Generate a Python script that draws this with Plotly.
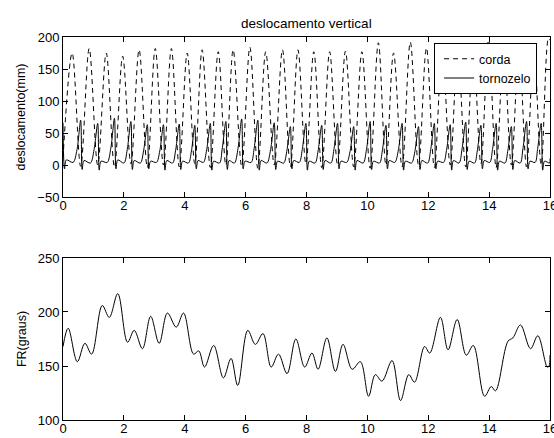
import plotly.graph_objects as go

# ---- data ----
x_ticks = [0, 2, 4, 6, 8, 10, 12, 14, 16]
top_yticks = [-50, 0, 50, 100, 150, 200]
bot_yticks = [100, 150, 200, 250]

corda_t = [0.00, 0.30, 0.58, 0.86, 1.14, 1.42, 1.69, 1.96, 2.23, 2.50, 2.77, 3.03,
           3.30, 3.56, 3.82, 4.08, 4.33, 4.57, 4.84, 5.10, 5.35, 5.59, 5.87, 6.14,
           6.40, 6.66, 6.94, 7.21, 7.47, 7.72, 7.98, 8.24, 8.50, 8.76, 9.02, 9.28,
           9.55, 9.82, 10.09, 10.36, 10.61, 10.86, 11.14, 11.41, 11.68, 11.94, 12.20,
           12.46, 12.72, 12.97, 13.23, 13.48, 13.73, 13.98, 14.23, 14.48, 14.73,
           14.98, 15.23, 15.47, 15.71, 15.95, 16.00]
corda_v = [10, 175, -2, 182, 0, 175, -3, 170, 2, 180, -4, 182,
           0, 182, -3, 175, 2, 180, -4, 177, 0, 180, -2, 184,
           -5, 177, 0, 180, -3, 180, 2, 177, -4, 177, 0, 178,
           -3, 177, -5, 191, 0, 175, -3, 192, 0, 183, -4,
           182, 0, 180, -3, 180, 2, 195, -4, 182, 0,
           182, -3, 183, 0, 198, 195]

tornozelo_t = [0.00, 0.05, 0.11, 0.33, 0.46,
               0.58, 0.63, 0.69, 0.90, 1.02,
               1.14, 1.19, 1.25, 1.45, 1.57,
               1.69, 1.74, 1.80, 2.00, 2.11,
               2.23, 2.28, 2.34, 2.54, 2.65,
               2.77, 2.82, 2.88, 3.07, 3.18,
               3.30, 3.35, 3.41, 3.60, 3.70,
               3.82, 3.87, 3.93, 4.12, 4.22,
               4.33, 4.38, 4.44, 4.61, 4.72,
               4.84, 4.89, 4.95, 5.14, 5.23,
               5.35, 5.40, 5.46, 5.63, 5.75,
               5.87, 5.92, 5.98, 6.18, 6.28,
               6.40, 6.45, 6.51, 6.70, 6.82,
               6.94, 6.99, 7.05, 7.25, 7.35,
               7.47, 7.52, 7.58, 7.76, 7.86,
               7.98, 8.03, 8.09, 8.28, 8.38,
               8.50, 8.55, 8.61, 8.80, 8.90,
               9.02, 9.07, 9.13, 9.32, 9.43,
               9.55, 9.60, 9.66, 9.86, 9.97,
               10.09, 10.14, 10.20, 10.40, 10.49,
               10.61, 10.66, 10.72, 10.90, 11.02,
               11.14, 11.19, 11.25, 11.45, 11.56,
               11.68, 11.73, 11.79, 11.98, 12.08,
               12.20, 12.25, 12.31, 12.50, 12.60,
               12.72, 12.77, 12.83, 13.01, 13.11,
               13.23, 13.28, 13.34, 13.52, 13.61,
               13.73, 13.78, 13.84, 14.02, 14.11,
               14.23, 14.28, 14.34, 14.52, 14.61,
               14.73, 14.78, 14.84, 15.02, 15.11,
               15.23, 15.28, 15.34, 15.51, 15.59,
               15.71, 15.76, 15.82, 15.99,
               16.00]
tornozelo_v = [66, -6, 8, 4, 24,
               70, -7, 7, 3, 24,
               65, -8, 6, 4, 26,
               73, -6, 8, 3, 24,
               68, -7, 7, 3, 23,
               63, -6, 6, 4, 22,
               63, -8, 7, 3, 23,
               64, -7, 6, 3, 22,
               62, -6, 7, 4, 24,
               65, -8, 6, 3, 25,
               68, -7, 7, 3, 26,
               72, -6, 6, 4, 26,
               70, -8, 7, 3, 24,
               66, -7, 6, 3, 21,
               60, -6, 7, 4, 24,
               65, -8, 6, 3, 22,
               62, -7, 7, 3, 24,
               65, -6, 6, 4, 21,
               60, -8, 7, 3, 24,
               68, -7, 6, 3, 22,
               62, -6, 7, 4, 24,
               65, -8, 6, 3, 21,
               60, -7, 7, 3, 24,
               65, -6, 6, 4, 23,
               63, -8, 7, 3, 25,
               67, -7, 6, 3, 22,
               62, -6, 7, 4, 24,
               65, -8, 6, 3, 21,
               60, -7, 7, 3, 25,
               68, -6, 6, 4, 24,
               65, -8, 6, 3,
               10]

fr_t = [0.00, 0.17, 0.47, 0.72, 0.94, 1.29, 1.52, 1.80, 2.12, 2.34, 2.61, 2.88,
        3.16, 3.43, 3.72, 3.96, 4.29, 4.46, 4.65, 4.95, 5.27, 5.52, 5.74, 6.07,
        6.32, 6.57, 6.84, 7.08, 7.36, 7.65, 7.94, 8.18, 8.38, 8.67, 8.95, 9.20,
        9.50, 9.77, 10.04, 10.26, 10.48, 10.81, 11.09, 11.36, 11.55, 11.88, 12.05,
        12.40, 12.65, 12.95, 13.25, 13.48, 13.85, 14.07, 14.21, 14.62, 14.78,
        15.03, 15.36, 15.60, 15.91, 15.97, 16.00]
fr_v = [168, 185, 154, 171, 161, 206, 195, 217, 172, 183, 166, 196,
        171, 199, 186, 199, 161, 164, 149, 169, 139, 157, 132, 183,
        170, 180, 149, 161, 143, 175, 149, 162, 147, 176, 145, 170,
        147, 154, 122, 142, 136, 155, 118, 142, 135, 168, 162,
        195, 165, 193, 160, 169, 122, 131, 127, 173, 176,
        188, 166, 178, 149, 150, 160]

FAMILY = "Liberation Sans, Arial, sans-serif"
FONT = dict(family=FAMILY, size=13, color="black")
TITLE_FONT = dict(family=FAMILY, size=13.5, color="black")
LABEL_FONT = dict(family=FAMILY, size=12.5, color="black")
LEGEND_FONT = dict(family=FAMILY, size=12.5, color="black")

fig = go.Figure()
fig.add_trace(go.Scatter(x=corda_t, y=corda_v, mode="lines", name="corda",
                         line=dict(color="black", width=1, dash="5px,4px",
                                   shape="spline", smoothing=1),
                         xaxis="x", yaxis="y"))
fig.add_trace(go.Scatter(x=tornozelo_t, y=tornozelo_v, mode="lines", name="tornozelo",
                         line=dict(color="black", width=1, shape="spline", smoothing=0.9),
                         xaxis="x", yaxis="y"))
fig.add_trace(go.Scatter(x=fr_t, y=fr_v, mode="lines", showlegend=False,
                         line=dict(color="black", width=1, shape="spline", smoothing=1),
                         xaxis="x2", yaxis="y2"))

common = dict(showline=True, linecolor="black", linewidth=1, mirror="ticks",
              ticks="inside", ticklen=5, tickcolor="black", tickwidth=1,
              showgrid=False, zeroline=False, tickfont=FONT, automargin=False)
xcommon = dict(common, ticklabeloverflow="allow", ticklabelstandoff=-4)

fig.update_layout(
    width=554, height=438,
    margin=dict(l=63, r=4, t=37, b=18),
    paper_bgcolor="white", plot_bgcolor="white",
    font=FONT,
    title=dict(text="deslocamento vertical", x=0.553, xref="container",
               y=0.948, yref="container", xanchor="center", yanchor="middle",
               font=TITLE_FONT, automargin=False),
    xaxis=dict(domain=[0, 1], range=[0, 16], tickvals=x_ticks, anchor="y", **xcommon),
    yaxis=dict(domain=[0.5822, 1], range=[-50, 200], tickvals=top_yticks, anchor="x",
               title=dict(text="deslocamento(mm)", font=LABEL_FONT, standoff=8), **common),
    xaxis2=dict(domain=[0, 1], range=[0, 16], tickvals=x_ticks, anchor="y2", **xcommon),
    yaxis2=dict(domain=[0, 0.423], range=[100, 250], tickvals=bot_yticks, anchor="x2",
                title=dict(text="FR(graus)", font=LABEL_FONT, standoff=8), **common),
    legend=dict(x=0.9735, y=0.984, xanchor="right", yanchor="top",
                xref="paper", yref="paper",
                bgcolor="white", bordercolor="black", borderwidth=1,
                font=LEGEND_FONT, tracegroupgap=0, itemwidth=30,
                indentation=4),
    showlegend=True,
)

fig.write_html("out.html", config={"displayModeBar": False},
               post_script="document.body.style.margin='0';document.body.style.padding='0';")
